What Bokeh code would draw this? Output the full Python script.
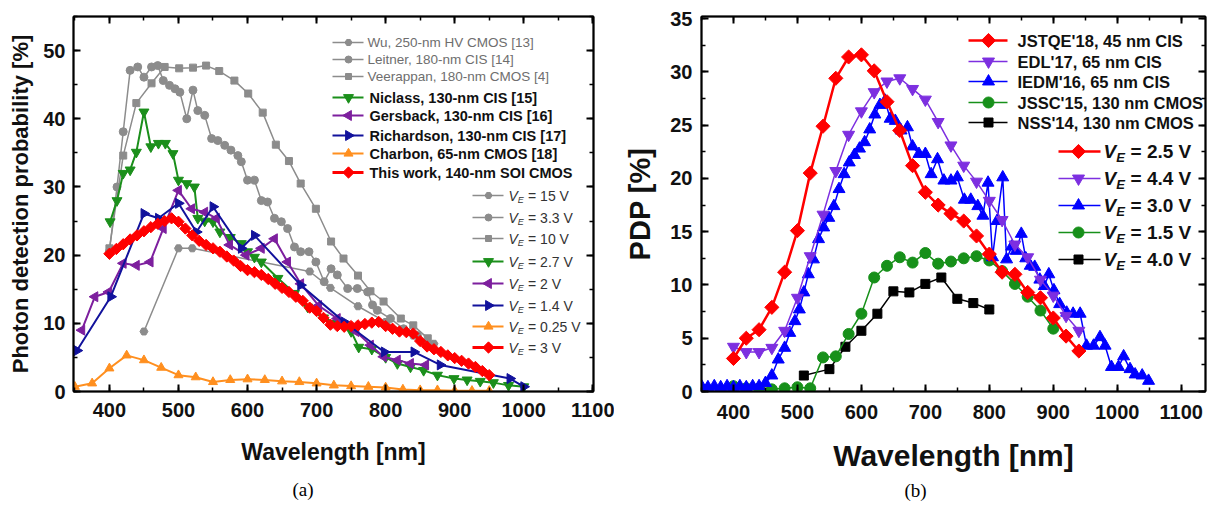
import math
from bokeh.plotting import figure
from bokeh.models import LinearAxis, SingleIntervalTicker, Title, CustomJSTickFormatter
from bokeh.layouts import row
from bokeh.embed import file_html
from bokeh.resources import INLINE
from bokeh.core.properties import value

SANS = "Liberation Sans"
SERIF = "Liberation Serif"

# ---------------- Panel (a) data : wavelength [nm], photon detection probability [%] ----------------
wu_wl = [450, 500, 520, 690, 720, 760, 800, 840, 870]
wu_pdp = [8.8, 21.0, 21.0, 17.6, 15.2, 12.5, 10.2, 8.2, 7.0]

leit_wl = [400, 411, 420, 430, 441, 450, 461, 470, 478, 487, 495, 502, 512, 521, 528, 538, 548, 557, 567, 576,
           586, 591, 600, 610, 620, 629, 639, 649, 658, 668, 677, 689, 699, 711, 721, 730, 745, 759, 774, 781,
           788, 807, 826, 846]
leit_pdp = [20.5, 30.0, 38.1, 47.1, 47.6, 46.1, 47.6, 47.8, 45.6, 44.9, 44.4, 43.9, 40.0, 44.2, 41.2, 40.5, 37.1, 36.8, 36.1, 35.4,
            34.6, 33.7, 31.0, 31.0, 28.0, 27.8, 25.4, 24.9, 23.9, 21.2, 20.5, 20.5, 19.0, 16.1, 18.0, 17.1, 15.1, 15.1, 14.6, 12.7,
            11.9, 10.7, 9.2, 8.2]

veer_wl = [400, 420, 439, 461, 480, 501, 521, 540, 559, 581, 601, 622, 641, 660, 677, 699, 721, 739, 760, 778, 797, 822, 840, 861]
veer_pdp = [21.0, 34.6, 42.3, 45.2, 47.6, 47.4, 47.5, 47.8, 47.0, 45.6, 43.7, 40.9, 36.2, 33.8, 30.5, 26.8, 22.0, 19.5, 17.0, 14.7, 13.2, 10.7, 9.7, 7.8]

nic_wl = [401, 411, 420, 430, 439, 450, 460, 471, 481, 492, 500, 512, 523, 528, 538, 550, 560, 575, 591, 600,
          610, 620, 644, 668, 687, 710, 730, 750, 761, 780, 800, 817, 836, 855, 875, 899, 918, 937, 956, 978, 1000]
nic_pdp = [24.9, 28.0, 32.0, 32.5, 35.1, 41.0, 35.9, 36.4, 36.4, 34.9, 31.0, 30.5, 30.0, 25.4, 25.0, 24.9, 23.4, 22.6, 21.7, 20.5,
           19.7, 19.0, 16.6, 14.4, 12.4, 10.8, 10.0, 8.8, 6.5, 6.2, 5.0, 4.1, 3.6, 3.1, 2.4, 1.9, 1.7, 1.5, 1.3, 0.9, 0.7]

ger_wl = [360, 379, 399, 420, 439, 459, 478, 500, 519, 538, 555, 574, 598, 620, 639, 658, 677, 703, 730, 757, 778, 797, 817, 836, 858]
ger_pdp = [9.0, 13.9, 14.6, 18.8, 18.5, 19.0, 23.9, 29.5, 26.8, 26.3, 25.4, 21.5, 20.0, 21.0, 22.4, 19.0, 15.8, 12.6, 10.7, 8.8, 6.8, 5.1, 4.6, 4.1, 3.9]

ric_wl = [353, 402, 450, 471, 500, 526, 550, 591, 610, 677, 740, 798, 841, 879, 980, 1000]
ric_pdp = [6.0, 13.9, 26.1, 25.4, 27.6, 23.4, 27.1, 21.0, 22.9, 15.6, 10.2, 5.8, 5.8, 3.9, 1.9, 0.7]

cha_wl = [350, 375, 400, 425, 450, 475, 500, 525, 550, 575, 600, 625, 650, 675, 700, 725, 750, 775, 800, 825, 850, 875, 900, 925, 950]
cha_pdp = [0.7, 1.2, 3.4, 5.3, 4.6, 3.5, 2.4, 2.1, 1.4, 1.7, 1.8, 1.7, 1.5, 1.4, 1.2, 0.9, 0.8, 0.7, 0.6, 0.3, 0.2, 0.2, 0.1, 0.1, 0.1]

tw_wl = [400, 410, 420, 430, 440, 450, 460, 470, 480, 490, 500, 510, 520, 530, 540, 550, 560, 570, 580, 590,
         600, 610, 620, 630, 640, 650, 660, 670, 680, 690, 700, 710, 720, 730, 740, 750, 760, 770, 780, 790,
         800, 810, 820, 830, 840, 850, 860, 870, 880, 890, 900, 910, 920, 930, 940, 950]
tw_pdp = [20.2, 20.9, 21.6, 22.3, 22.9, 23.5, 24.1, 24.6, 25.0, 25.4, 24.9, 23.9, 22.9, 22.1, 21.5, 21.0, 20.5, 19.8, 19.2, 18.4,
          17.8, 17.5, 17.1, 16.5, 15.8, 15.2, 14.6, 13.9, 13.3, 12.3, 11.8, 10.8, 9.8, 9.6, 9.5, 9.6, 9.7, 9.9, 10.1, 10.2,
          9.6, 9.2, 8.8, 8.7, 8.5, 7.4, 6.6, 6.2, 5.8, 5.3, 4.9, 4.5, 4.1, 3.6, 3.0, 2.4]

a_labels = ["Wu, 250-nm HV CMOS [13]", "Leitner, 180-nm CIS [14]", "Veerappan, 180-nm CMOS [4]",
            "Niclass, 130-nm CIS [15]", "Gersback, 130-nm CIS [16]", "Richardson, 130-nm CIS [17]",
            "Charbon, 65-nm CMOS [18]", "This work, 140-nm SOI CMOS"]
a_ve = ["15 V", "3.3 V", "10 V", "2.7 V", "2 V", "1.4 V", "0.25 V", "3 V"]

# ---------------- Panel (b) data : wavelength [nm], PDP [%] ----------------
jst_wl = [400, 420, 440, 460, 480, 500, 520, 540, 560, 580, 600, 620, 640, 660, 680, 700, 720, 740, 760, 780, 800, 820, 840, 860, 880, 900, 920, 940]
jst_pdp = [3.1, 5.0, 5.8, 7.9, 11.2, 15.1, 20.5, 24.9, 29.4, 31.4, 31.6, 30.1, 27.2, 24.5, 21.2, 18.7, 17.5, 16.7, 16.0, 14.6, 12.9, 11.2, 11.0, 9.3, 8.8, 6.9, 5.2, 3.8]

edl_wl = [400, 420, 440, 460, 480, 500, 520, 540, 560, 580, 600, 620, 640, 660, 680, 700, 720, 740, 760, 780, 800, 820, 840, 860, 880, 900, 920, 940]
edl_pdp = [4.2, 3.7, 3.7, 4.1, 5.7, 8.8, 12.7, 16.6, 20.7, 24.1, 26.3, 28.1, 29.1, 29.4, 28.4, 27.4, 25.3, 23.1, 21.2, 19.7, 17.9, 16.1, 13.8, 12.6, 10.5, 9.0, 7.1, 5.7]

iedm_wl = [350, 360, 370, 380, 390, 400, 410, 420, 430, 440, 450, 460, 470, 480, 488, 496, 503, 510, 517, 525,
           533, 541, 549, 557, 565, 573, 581, 589, 597, 605, 613, 621, 629, 637, 645, 653, 662, 672, 680, 690,
           700, 709, 719, 729, 740, 750, 761, 771, 782, 790, 798, 805, 812, 821, 827, 835, 842, 850, 857, 864,
           871, 879, 886, 893, 901, 910, 921, 931, 942, 952, 963, 973, 981, 991, 1002, 1010, 1020, 1028, 1039, 1049]
iedm_pdp = [0.5, 0.4, 0.5, 0.4, 0.5, 0.4, 0.5, 0.4, 0.5, 0.5, 0.8, 1.5, 3.0, 4.1, 5.5, 6.6, 7.7, 9.3, 11.0, 12.4,
            14.3, 15.4, 16.3, 17.4, 19.0, 20.4, 21.5, 22.2, 22.8, 23.4, 24.6, 26.0, 26.9, 27.3, 25.6, 25.4, 24.5, 24.8, 23.0, 22.3,
            22.3, 20.4, 21.8, 19.8, 19.8, 20.1, 18.0, 18.0, 17.4, 16.5, 19.6, 12.6, 16.0, 20.1, 12.4, 13.6, 13.2, 14.8, 12.5, 11.8,
            11.7, 10.5, 9.9, 11.0, 9.5, 8.2, 7.4, 7.3, 7.3, 4.3, 4.3, 5.1, 4.3, 2.3, 2.3, 3.3, 2.1, 1.6, 1.5, 1.0]

jssc_wl = [400, 420, 440, 460, 480, 500, 520, 540, 560, 580, 600, 620, 640, 660, 680, 700, 720, 740, 760, 780, 800, 820, 840, 860, 880, 900]
jssc_pdp = [0.5, 0.3, 0.3, 0.2, 0.3, 0.4, 0.3, 3.2, 3.3, 5.4, 7.3, 10.7, 11.8, 12.6, 12.1, 13.0, 12.0, 12.2, 12.5, 12.7, 12.3, 11.3, 10.1, 8.9, 7.6, 5.9]

nss_wl = [510, 550, 575, 600, 625, 650, 675, 700, 725, 750, 775, 800]
nss_pdp = [1.5, 2.1, 4.2, 5.7, 7.3, 9.4, 9.3, 10.1, 10.7, 8.7, 8.3, 7.7]

b_labels = ["JSTQE'18, 45 nm CIS", "EDL'17, 65 nm CIS", "IEDM'16, 65 nm CIS", "JSSC'15, 130 nm CMOS", "NSS'14, 130 nm CMOS"]
b_ve = ["2.5 V", "4.4 V", "3.0 V", "1.5 V", "4.0 V"]

# ---------------- colours ----------------
GRAY = "#8c8c8c"
A_GREEN = "#1b8f1b"
A_PURPLE = "#7d1f9e"
A_BLUE = "#12129c"
A_ORANGE = "#ff8f1f"
RED = "#ff0000"
B_PURPLE = "#7d2fe0"
B_BLUE = "#0000ff"
B_GREEN = "#17901a"
BLACK = "#000000"

R90 = math.pi / 2
R45 = math.pi / 4

# common frame bottom (row layout aligns both frames)
FRAME_BOTTOM = 391


def style_axes(p, xint, yint, tick_size, xlabel_size, ylabel_size, xlabel, ylabel, x_std, x_lstd, y_std, y_lstd):
    p.xaxis.ticker = SingleIntervalTicker(interval=xint, num_minor_ticks=2)
    p.yaxis.ticker = SingleIntervalTicker(interval=yint, num_minor_ticks=2)
    p.xaxis.axis_label = xlabel
    p.yaxis.axis_label = ylabel
    p.xaxis.major_label_standoff = x_std
    p.xaxis.axis_label_standoff = x_lstd
    p.yaxis.major_label_standoff = y_std
    p.yaxis.axis_label_standoff = y_lstd
    p.yaxis.major_label_orientation = "horizontal"
    p.xaxis.axis_label_text_font_size = xlabel_size
    p.yaxis.axis_label_text_font_size = ylabel_size
    for ax in (p.xaxis[0], p.yaxis[0]):
        ax.major_tick_in = 7
        ax.major_tick_out = 0
        ax.minor_tick_in = 4
        ax.minor_tick_out = 0
        ax.axis_line_width = 2
        ax.major_tick_line_width = 2
        ax.minor_tick_line_width = 1.5
        ax.major_label_text_font = SANS
        ax.major_label_text_font_style = "bold"
        ax.major_label_text_font_size = tick_size
        ax.major_label_text_color = "#111111"
        ax.axis_label_text_font = SANS
        ax.axis_label_text_font_style = "bold"
        ax.axis_label_text_color = "#111111"
    for side, interval in (("above", xint), ("right", yint)):
        ax = LinearAxis(ticker=SingleIntervalTicker(interval=interval, num_minor_ticks=2),
                        formatter=CustomJSTickFormatter(code="return ''"),
                        major_label_text_font_size="0px", major_label_standoff=0,
                        major_tick_in=7, major_tick_out=0, minor_tick_in=4, minor_tick_out=0,
                        axis_line_width=2, major_tick_line_width=2, minor_tick_line_width=1.5)
        p.add_layout(ax, side)
    p.xgrid.visible = False
    p.ygrid.visible = False
    p.outline_line_color = "black"
    p.outline_line_width = 1.5
    p.background_fill_color = "white"
    p.border_fill_color = "white"


def series(p, xs, ys, color, marker, size, lw, angle=0.0):
    p.line(xs, ys, line_color=color, line_width=lw)
    p.scatter(xs, ys, marker=marker, size=size, angle=angle, fill_color=color, line_color=color)


def mapper(frame, xr, yr):
    l, r, t, b = frame

    def fx(px):
        return xr[0] + (px - l) * (xr[1] - xr[0]) / (r - l)

    def fy(py):
        return yr[0] + (b - py) * (yr[1] - yr[0]) / (b - t)
    return fx, fy


def key(p, fx, fy, x0, x1, xm, yrow, color, marker, size, lw, angle=0.0):
    p.line([fx(x0), fx(x1)], [fy(yrow), fy(yrow)], line_color=color, line_width=lw)
    p.scatter([fx(xm)], [fy(yrow)], marker=marker, size=size, angle=angle, fill_color=color, line_color=color)


def txt(p, fx, fy, xpx, ypx, s, size, style, color):
    p.text([fx(xpx)], [fy(ypx)], text=[s], text_font=value(SANS), text_font_size=value(f"{size}px"),
           text_font_style=style, text_color=color, text_baseline="middle", text_align="left")


def ve_text(p, fx, fy, xpx, ypx, rest, size, sub, bold, color, sub_dy):
    st_i = "bold italic" if bold else "italic"
    st_n = "bold" if bold else "normal"
    wv = 0.667 * size
    txt(p, fx, fy, xpx, ypx, "V", size, st_i, color)
    txt(p, fx, fy, xpx + wv, ypx + sub_dy, "E", sub, st_i, color)
    txt(p, fx, fy, xpx + wv + 0.667 * sub + 0.3 * size, ypx, "= " + rest, size, st_n, color)


# ======================= Panel (a) =======================
AX = (348, 1101)
AY = (0, 55.0)
pa = figure(width=614, height=510, x_range=AX, y_range=AY, output_backend="svg", toolbar_location=None,
            min_border_left=73, min_border_right=21, min_border_top=16, min_border_bottom=510 - FRAME_BOTTOM)
style_axes(pa, 100, 10, "20px", "23px", "22px", "Wavelength [nm]", "Photon detection probability [%]", 11, 19, 8, 7)

a_styles = [
    (wu_wl, wu_pdp, GRAY, "hex", 8, 1.5, 0.0),
    (leit_wl, leit_pdp, GRAY, "circle", 8, 1.5, 0.0),
    (veer_wl, veer_pdp, GRAY, "square", 7, 1.5, 0.0),
    (cha_wl, cha_pdp, A_ORANGE, "triangle", 9, 2, 0.0),
    (nic_wl, nic_pdp, A_GREEN, "inverted_triangle", 10, 2, 0.0),
    (ger_wl, ger_pdp, A_PURPLE, "triangle", 10, 2, R90),
    (ric_wl, ric_pdp, A_BLUE, "triangle", 10, 2, -R90),
    (tw_wl, tw_pdp, RED, "square", 8, 3, R45),
]
for xs, ys, c, m, s, lw, ang in a_styles:
    series(pa, xs, ys, c, m, s, lw, ang)

fxa, fya = mapper((73, 593, 16, FRAME_BOTTOM), AX, AY)
a_key_styles = [
    (GRAY, "hex", 7, 1.5, 0.0), (GRAY, "circle", 7, 1.5, 0.0), (GRAY, "square", 6, 1.5, 0.0),
    (A_GREEN, "inverted_triangle", 10, 2, 0.0), (A_PURPLE, "triangle", 10, 2, R90),
    (A_BLUE, "triangle", 10, 2, -R90), (A_ORANGE, "triangle", 9, 2, 0.0), (RED, "square", 8, 3, R45),
]
a_rows = [42, 59, 76, 97, 115, 135, 153, 172]
for i, (lab, (c, m, s, lw, ang), yr) in enumerate(zip(a_labels, a_key_styles, a_rows)):
    key(pa, fxa, fya, 332, 363, 348, yr, c, m, s, lw, ang)
    if i < 3:
        txt(pa, fxa, fya, 367, yr, lab, 13.5, "normal", "#6e6e6e")
    else:
        txt(pa, fxa, fya, 369, yr, lab, 14.5, "bold", "#111111")

a_ve_rows = [195, 217, 238, 261, 283, 305, 326, 347]
for lab, (c, m, s, lw, ang), yr in zip(a_ve, a_key_styles, a_ve_rows):
    key(pa, fxa, fya, 472, 503, 488, yr, c, m, s, lw, ang)
    ve_text(pa, fxa, fya, 508, yr, lab, 14, 9, False, "#333333", 4)

pa.add_layout(Title(text="(a)", align="left", offset=219, standoff=19, text_font=SERIF,
                    text_font_size="19px", text_font_style="normal", text_color="black"), "below")

# ======================= Panel (b) =======================
BX = (350, 1138)
BY = (0, 35.2)
pb = figure(width=599, height=510, x_range=BX, y_range=BY, output_backend="svg", toolbar_location=None,
            min_border_left=87, min_border_right=8, min_border_top=16, min_border_bottom=510 - FRAME_BOTTOM)
style_axes(pb, 100, 5, "20px", "30px", "29px", "Wavelength [nm]", "PDP [%]", 13, 17, 9, 11)

b_styles = [
    (nss_wl, nss_pdp, BLACK, "square", 9, 1.5, 0.0),
    (jssc_wl, jssc_pdp, B_GREEN, "circle", 11, 1.5, 0.0),
    (iedm_wl, iedm_pdp, B_BLUE, "triangle", 12, 1.5, 0.0),
    (edl_wl, edl_pdp, B_PURPLE, "inverted_triangle", 12, 1.5, 0.0),
    (jst_wl, jst_pdp, RED, "square", 10, 2.5, R45),
]
for xs, ys, c, m, s, lw, ang in b_styles:
    series(pb, xs, ys, c, m, s, lw, ang)

fxb, fyb = mapper((701, 1205, 16, FRAME_BOTTOM), BX, BY)
b_key_styles = [
    (RED, "square", 10, 2.5, R45), (B_PURPLE, "inverted_triangle", 12, 1.5, 0.0),
    (B_BLUE, "triangle", 12, 1.5, 0.0), (B_GREEN, "circle", 11, 1.5, 0.0), (BLACK, "square", 9, 1.5, 0.0),
]
b_rows = [40, 61, 81, 102, 122]
for lab, (c, m, s, lw, ang), yr in zip(b_labels, b_key_styles, b_rows):
    key(pb, fxb, fyb, 968, 1007, 988, yr, c, m, s, lw, ang)
    txt(pb, fxb, fyb, 1017, yr, lab, 16.5, "bold", "#111111")

b_ve_rows = [151, 178, 205, 232, 259]
for lab, (c, m, s, lw, ang), yr in zip(b_ve, b_key_styles, b_ve_rows):
    key(pb, fxb, fyb, 1058, 1100, 1078, yr, c, m, s, lw, ang)
    ve_text(pb, fxb, fyb, 1103, yr, lab, 19, 13, True, "#111111", 6)

pb.add_layout(Title(text="(b)", align="left", offset=203, standoff=6, text_font=SERIF,
                    text_font_size="19px", text_font_style="normal", text_color="black"), "below")

layout = row(pa, pb)
open("out.html", "w").write(file_html(layout, INLINE))
